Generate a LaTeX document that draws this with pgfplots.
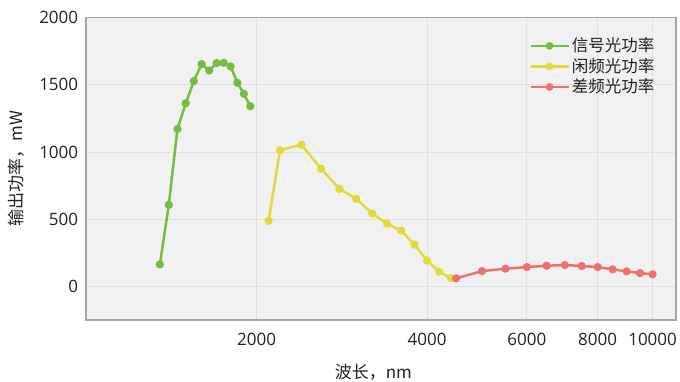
\documentclass[border=0pt]{standalone}
\usepackage{fontspec}
\setmainfont{Open Sans}
\newfontfamily\cjk{Noto Sans CJK SC}
\usepackage{pgfplots}
\pgfplotsset{compat=1.18}
\definecolor{gS}{RGB}{116,188,66}
\definecolor{yI}{RGB}{226,218,58}
\definecolor{rD}{RGB}{240,112,112}
\definecolor{bgc}{RGB}{241,241,241}
\definecolor{gridc}{RGB}{224,224,224}
\definecolor{framec}{RGB}{166,166,166}
\definecolor{txt}{RGB}{34,34,34}
\begin{document}
\fontsize{17}{20}\selectfont
\begin{tikzpicture}
\useasboundingbox (0,0) rectangle (680pt,381pt);
\begin{axis}[
  at={(86pt,61pt)}, anchor=south west,
  width=590pt, height=302.3pt, scale only axis,
  xmode=log, xmin=1000, xmax=11000,
  ymin=-250, ymax=2000,
  xtick={2000,4000,6000,8000,10000},
  xticklabels={2000,4000,6000,8000,10000},
  ytick={0,500,1000,1500,2000},
  minor xtick={}, 
  /pgf/number format/assume math mode=true,
  /pgf/number format/1000 sep={},
  tick label style={font=\fontsize{17}{20}\selectfont, text=txt},
  major tick length=0pt,
  grid=major,
  major grid style={gridc, line width=0.9pt},
  axis background/.style={fill=bgc},
  axis line style={framec, line width=1.3pt},
  xticklabel style={yshift=-7pt},
  yticklabel style={xshift=-2pt},
  xlabel={\cjk 波长，nm},
  ylabel={\cjk 输出功率，mW},
  label style={font=\fontsize{17}{20}\selectfont, text=txt},
  xlabel style={at={(axis description cs:0.487,-0.172)}, anchor=center},
  ylabel style={at={(axis description cs:-0.118,0.5)}, anchor=center, rotate=0},
  legend style={at={(0.972,0.948)}, anchor=north east, draw=none, fill=none,
    font=\cjk\fontsize{16.5}{22}\selectfont, text=txt, row sep=0pt,
    legend cell align=left},
  legend image code/.code={
    \draw[#1, mark=none] (0pt,0pt) -- (38pt,0pt);
    \fill[#1] (19pt,0pt) circle (2.5pt);
  },
  every axis plot/.append style={line width=2.5pt, mark=*, mark size=2.8pt},
]
\addplot[gS, mark options={fill=gS, draw=gS}] coordinates {
(1350,164) (1400,607) (1450,1172) (1500,1363) (1550,1528) (1600,1655)
(1650,1607) (1700,1662) (1750,1664) (1800,1637) (1850,1515) (1900,1433) (1950,1341)
};
\addlegendentry{信号光功率}
\addplot[yI, mark options={fill=yI, draw=yI}] coordinates {
(2100,487) (2200,1013) (2400,1055) (2600,876) (2800,726) (3000,652)
(3200,542) (3400,468) (3600,415) (3800,311) (4000,192) (4200,110) (4400,62)
};
\addlegendentry{闲频光功率}
\addplot[rD, mark options={fill=rD, draw=rD}] coordinates {
(4500,60) (5000,114) (5500,132) (6000,144) (6500,154) (7000,159)
(7500,152) (8000,144) (8500,127) (9000,112) (9500,99) (10000,90)
};
\addlegendentry{差频光功率}
\end{axis}
\end{tikzpicture}
\end{document}
